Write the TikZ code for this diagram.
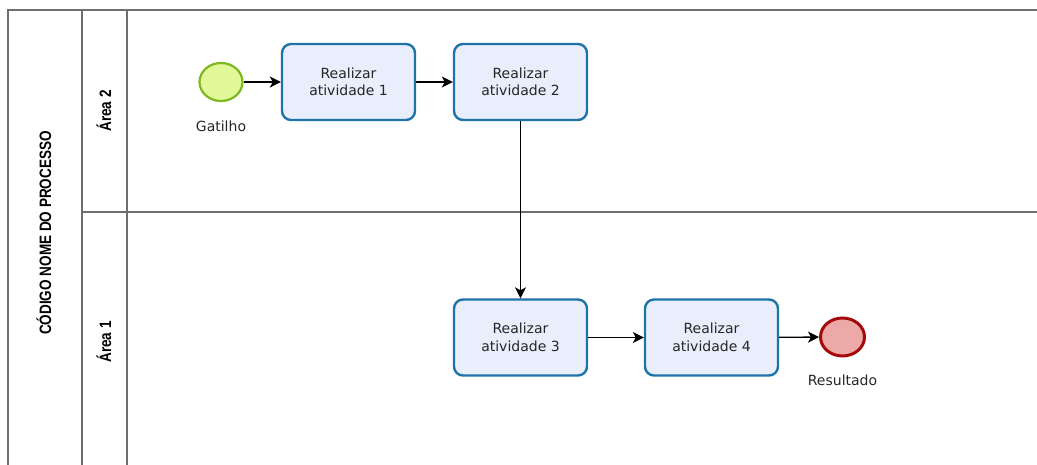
\documentclass[tikz,border=0pt]{standalone}
\usepackage{fontspec}
\setmainfont{DejaVu Sans}
\newfontfamily\lanefont{Liberation Sans}
\usetikzlibrary{arrows.meta}
\definecolor{lanegray}{HTML}{6E6E6E}
\definecolor{taskfill}{HTML}{E9EEFC}
\definecolor{taskline}{HTML}{1F73A8}
\definecolor{startfill}{HTML}{E2F99A}
\definecolor{startline}{HTML}{7DB81E}
\definecolor{endfill}{HTML}{EDA8A8}
\definecolor{endline}{HTML}{A40A0A}
\tikzset{
  lane/.style={draw=lanegray, line width=1.6pt},
  task/.style={draw=taskline, fill=taskfill, line width=2.4pt, rounded corners=9pt,
    minimum width=133pt, minimum height=76pt, align=center,
    font=\fontsize{14}{17.5}\selectfont, text=black!85},
  startev/.style={ellipse, draw=startline, fill=startfill, line width=2.2pt,
    minimum width=43pt, minimum height=38pt, inner sep=0pt},
  endev/.style={ellipse, draw=endline, fill=endfill, line width=3pt,
    minimum width=44pt, minimum height=38pt, inner sep=0pt},
  evlabel/.style={font=\fontsize{14}{16}\selectfont, text=black!85},
  lanelabel/.style={rotate=90, font=\lanefont\bfseries\fontsize{16.5}{18}\selectfont},
  flow/.style={draw=black, line width=1.3pt, -{Stealth[length=11pt,width=11pt,inset=3pt]}}
}
\usetikzlibrary{shapes.geometric}
\begin{document}
\begin{tikzpicture}[x=1pt, y=-1pt]
\useasboundingbox (0,0) rectangle (1037,465);
% pool and lane borders
\draw[lane] (8,465) -- (8,10) -- (1037,10);
\draw[lane] (82,10) -- (82,465);
\draw[lane] (127,10) -- (127,465);
\draw[lane] (82,212) -- (1037,212);
% labels of pool and lanes
\node[lanelabel] (pool) at (44,233) {\scalebox{0.82}[1]{CÓDIGO NOME DO PROCESSO}};
\node[lanelabel] (lane2) at (104,111) {\scalebox{0.82}[1]{Área 2}};
\node[lanelabel] (lane1) at (104,342) {\scalebox{0.82}[1]{Área 1}};
% events and tasks
\node[startev] (start) at (221,82) {};
\node[evlabel] (startlbl) at (221,126) {Gatilho};
\node[task] (t1) at (348.5,82) {Realizar\\atividade 1};
\node[task] (t2) at (520.5,82) {Realizar\\atividade 2};
\node[task] (t3) at (520.5,337.5) {Realizar\\atividade 3};
\node[task] (t4) at (711.5,337.5) {Realizar\\atividade 4};
\node[endev] (finish) at (842.5,337) {};
\node[evlabel] (endlbl) at (842.5,380) {Resultado};
% sequence flows
\draw[flow] (start) -- (t1);
\draw[flow] (t1) -- (t2);
\draw[flow] (t2) -- (t3);
\draw[flow] (t3) -- (t4);
\draw[flow] (t4) -- (finish);
\end{tikzpicture}
\end{document}
